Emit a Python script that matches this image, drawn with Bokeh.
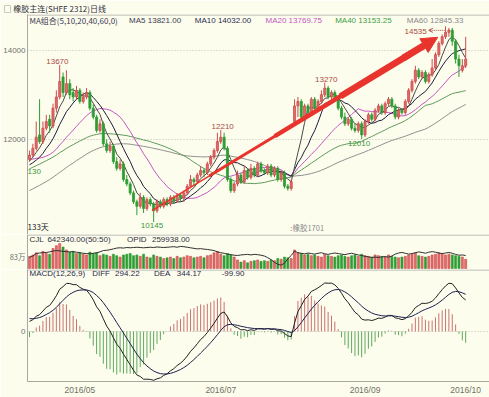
import pandas as pd
from bokeh.plotting import figure
from bokeh.layouts import column
from bokeh.models import (ColumnDataSource, Label, Span, Arrow, NormalHead, OpenHead,
                          FixedTicker, Range1d)
from bokeh.embed import file_html
from bokeh.resources import INLINE

# ---------------- data ----------------
prior_closes = [9500, 9600, 9550, 9700, 9650, 9800, 9750, 9600, 9700, 9850,
                9900, 9800, 9950, 10000, 9900, 10050, 10100, 10000, 10150, 10200,
                10300, 10450, 10600, 10550, 10700, 10850, 10800, 11000, 11150, 11100,
                11250, 11300, 11200, 11350, 11400, 11300, 11450, 11500, 11400, 11550,
                11600, 11750, 11700, 11850, 11900, 11800, 11650, 11700, 11550, 11400,
                11500, 11350, 11450, 11300, 11400, 11250, 11350, 11500, 11450, 11600]

opens = [11550, 11650, 11800, 12100, 11950, 12250, 12450, 12300, 12700, 12950,
         13400, 13050, 13250, 13050, 12950, 13100, 12850, 12950, 13050, 12700,
         12500, 12200, 12350, 11900, 11750, 11850, 11500, 11350, 11450, 11100,
         11000, 10800, 10600, 10500, 10700, 10450, 10650, 10550, 10400, 10600,
         10500, 10650, 10550, 10700, 10620, 10750, 10680, 10800, 10950, 11100,
         11050, 11200, 11300, 11250, 11450, 11600, 11750, 11950, 12050, 11800,
         11100, 10850, 11000, 11200, 11050, 11300, 11150, 11350, 11200, 11450,
         11300, 11250, 11400, 11200, 11350, 11100, 11250, 10950, 10900, 12400,
         12750, 12850, 12500, 12750, 12600, 12900, 12700, 12850, 13000, 13150,
         12950, 13050, 12900, 12700, 12500, 12350, 12450, 12250, 12200, 12350,
         12100, 12400, 12550, 12450, 12650, 12750, 12600, 12800, 12900, 12750,
         12500, 12650, 12600, 12850, 13100, 13300, 13550, 13400, 13500, 13300,
         13450, 13600, 13900, 14150, 14300, 14400, 14450, 14200, 13800, 13550,
         13650]
highs = [11750, 11900, 12400, 12900, 12400, 12550, 12550, 12800, 13100, 13670,
         13500, 13550, 13350, 13150, 13200, 13150, 13050, 13150, 13100, 12800,
         12550, 12450, 12400, 12000, 11950, 11900, 11600, 11550, 11500, 11200,
         11050, 10850, 10650, 10800, 10750, 10700, 10700, 10600, 10650, 10650,
         10700, 10700, 10750, 10750, 10800, 10800, 10850, 11000, 11200, 11150,
         11250, 11400, 11350, 11500, 11650, 11800, 12150, 12210, 12150, 11850,
         11150, 11050, 11300, 11250, 11400, 11350, 11450, 11400, 11500, 11500,
         11350, 11450, 11450, 11400, 11400, 11300, 11300, 11000, 11100, 12900,
         12950, 12900, 12800, 12800, 12950, 12950, 12900, 13100, 13270, 13200,
         13100, 13100, 12950, 12750, 12600, 12500, 12500, 12350, 12400, 12400,
         12450, 12600, 12600, 12700, 12800, 12800, 12850, 12950, 12950, 12800,
         12700, 12700, 12900, 13150, 13350, 13650, 13600, 13550, 13550, 13500,
         13800, 13950, 14200, 14350, 14535, 14500, 14500, 14250, 13900, 13800,
         14300]
lows = [11500, 11600, 11750, 11900, 11900, 12200, 12150, 12250, 12600, 12900,
        12950, 13000, 12900, 12850, 12900, 12800, 12800, 12900, 12650, 12450,
        12150, 12150, 11850, 11700, 11700, 11450, 11300, 11300, 11050, 10950,
        10750, 10550, 10300, 10450, 10350, 10400, 10500, 10145, 10350, 10450,
        10450, 10500, 10500, 10550, 10580, 10600, 10600, 10750, 10900, 10950,
        11000, 11150, 11150, 11200, 11400, 11550, 11700, 11900, 11750, 11050,
        10800, 10800, 10950, 11000, 11000, 11100, 11100, 11150, 11150, 11250,
        11200, 11200, 11150, 11150, 11050, 11050, 10900, 10850, 10850, 12350,
        12500, 12450, 12450, 12550, 12550, 12650, 12650, 12800, 12950, 12900,
        12900, 12850, 12650, 12450, 12300, 12300, 12200, 12150, 12150, 12010,
        12050, 12350, 12400, 12400, 12600, 12550, 12550, 12750, 12700, 12450,
        12450, 12550, 12550, 12800, 13050, 13250, 13350, 13350, 13250, 13250,
        13400, 13550, 13850, 14100, 14250, 14300, 14100, 13700, 13400, 13500,
        13600]
closes = [11650, 11800, 12050, 11950, 12250, 12400, 12300, 12700, 12950, 13300,
          13050, 13250, 13000, 12950, 13100, 12850, 12950, 13050, 12700, 12500,
          12200, 12350, 11900, 11750, 11850, 11500, 11350, 11450, 11100, 11000,
          10800, 10600, 10500, 10700, 10450, 10650, 10550, 10400, 10600, 10500,
          10650, 10550, 10700, 10620, 10750, 10680, 10800, 10950, 11100, 11050,
          11200, 11300, 11250, 11450, 11600, 11750, 11950, 12050, 11800, 11100,
          10850, 11000, 11200, 11050, 11300, 11150, 11350, 11200, 11450, 11300,
          11250, 11400, 11200, 11350, 11100, 11250, 10950, 10900, 11050, 12750,
          12850, 12500, 12750, 12600, 12900, 12700, 12850, 13000, 13150, 12950,
          13050, 12900, 12700, 12500, 12350, 12450, 12250, 12200, 12350, 12100,
          12400, 12550, 12450, 12650, 12750, 12600, 12800, 12900, 12750, 12500,
          12650, 12600, 12850, 13100, 13300, 13550, 13400, 13500, 13300, 13450,
          13600, 13900, 14150, 14300, 14400, 14450, 14200, 13800, 13650, 13650,
          13800]
# volume (CJL) in units of 10,000 contracts (万)
volume_wan = [85, 95, 110, 90, 120, 105, 100, 140, 160, 175,
              150, 130, 115, 120, 105, 110, 100, 95, 115, 105,
              110, 90, 100, 95, 85, 100, 90, 80, 95, 100,
              105, 90, 95, 85, 100, 80, 75, 95, 85, 80,
              70, 75, 80, 70, 85, 75, 80, 90, 85, 75,
              80, 85, 75, 90, 95, 110, 120, 100, 90, 105,
              95, 80, 60, 45, 55, 40, 50, 55, 60, 50,
              55, 50, 60, 55, 70, 65, 80, 75, 70, 130,
              110, 105, 95, 100, 90, 95, 85, 80, 100, 90,
              85, 80, 90, 95, 85, 80, 90, 95, 85, 100,
              90, 85, 80, 95, 90, 85, 80, 95, 85, 80,
              75, 80, 85, 95, 100, 110, 90, 85, 80, 85,
              95, 100, 110, 105, 95, 100, 95, 90, 85, 80,
              64.2]
# open interest (OPID) in 万
open_interest_wan = [25.3, 25.8, 26.7, 26.9, 27.0, 27.1, 27.3, 27.6, 27.8, 27.7,
                     27.5, 27.4, 27.3, 27.4, 27.2, 27.0, 26.8, 26.7, 26.6, 26.8,
                     27.0, 27.3, 27.8, 27.9, 28.1, 28.4, 28.7, 28.8, 28.7, 28.9,
                     28.8, 28.9, 29.0, 28.9, 28.8, 28.9, 29.0, 28.9, 29.1, 29.0,
                     28.9, 29.0, 29.1, 29.2, 29.0, 29.3, 29.2, 29.0, 28.8, 28.6,
                     28.4, 28.5, 28.3, 28.2, 28.0, 27.8, 27.3, 27.0, 26.8, 26.5,
                     26.3, 26.1, 26.0, 26.2, 26.3, 26.4, 26.2, 26.4, 26.3, 26.1,
                     25.8, 25.2, 24.5, 23.5, 22.8, 22.5, 23.2, 24.8, 26.0, 27.6,
                     27.0, 26.8, 26.6, 26.9, 26.7, 26.5, 26.8, 27.0, 26.6, 26.4,
                     26.7, 26.9, 26.7, 26.5, 26.3, 26.6, 26.8, 26.5, 26.2, 26.0,
                     25.7, 25.5, 25.3, 25.4, 25.3, 25.5, 25.6, 25.4, 25.8, 26.5,
                     26.9, 27.1, 26.8, 26.5, 26.7, 27.0, 27.3, 27.1, 26.8, 27.2,
                     27.4, 27.2, 26.9, 26.7, 26.9, 27.1, 26.8, 26.4, 26.1, 26.2,
                     25.99]
date_tick_index = [15, 57, 100, 130]
date_tick_labels = ["2016/05", "2016/07", "2016/09", "2016/10"]
ma_windows = [5, 10, 20, 40, 60]

# ---------------- derived indicators ----------------
n = len(closes)
xs = list(range(n))
full = pd.Series(prior_closes + closes, dtype=float)
mas = {w: full.rolling(w).mean().iloc[-n:].tolist() for w in ma_windows}
ema12 = full.ewm(span=12, adjust=False).mean()
ema26 = full.ewm(span=26, adjust=False).mean()
diff = ema12 - ema26
dea = diff.ewm(span=9, adjust=False).mean()
hist = 2 * (diff - dea)
diff_v = diff.iloc[-n:].tolist()
dea_v = dea.iloc[-n:].tolist()
hist_v = hist.iloc[-n:].tolist()

# ---------------- style ----------------
BG = "#FDFDEE"
FONT = "Liberation Sans"
CJK = "Noto Sans CJK SC"
UP = "#E26A6A"
UP_LINE = "#CC4B4B"
DN = "#2E9E34"
AXIS = "#A8A8A0"
W = 489
X0, X1 = -0.6, 137.1
FL, FR = 25, 489


def xd(rx):
    return X0 + (rx - FL) / (FR - FL) * (X1 - X0)


def ym(ry):
    return 14000 - (ry - 48) * 22.222


def yv(ry):
    return (268 - ry) * 7.0


def yc(ry):
    return (332 - ry) * 9.5


xr = Range1d(X0, X1)


def mkfig(h, y0, y1, top, bottom, xaxis=None):
    p = figure(width=W, height=h, x_range=xr, y_range=Range1d(y0, y1),
               x_axis_location=xaxis, output_backend="svg", toolbar_location=None,
               min_border_left=FL, min_border_right=0, min_border_top=top,
               min_border_bottom=bottom)
    p.background_fill_color = BG
    p.border_fill_color = BG
    p.outline_line_color = None
    p.xgrid.grid_line_color = None
    p.yaxis.axis_line_color = AXIS
    p.yaxis.major_tick_in = 0
    p.yaxis.major_tick_out = 0
    p.yaxis.minor_tick_line_color = None
    p.yaxis.major_label_standoff = 2
    p.yaxis.major_label_text_font = FONT
    p.yaxis.major_label_text_font_size = "8px"
    p.yaxis.major_label_text_color = "#707070"
    p.ygrid.grid_line_color = "#BDBDB5"
    p.ygrid.grid_line_dash = "1 2"
    return p


def lab(p, x, y, text, color, size="8px", align="left", base="middle", font=FONT, alpha=1.0):
    p.add_layout(Label(x=x, y=y, text=text, text_color=color, text_font_size=size,
                       text_align=align, text_baseline=base, text_font=font,
                       text_alpha=alpha))


colors = [UP if c >= o else DN for o, c in zip(opens, closes)]
lines = [UP_LINE if c >= o else DN for o, c in zip(opens, closes)]

# ---------------- main price panel ----------------
p1 = mkfig(234, ym(234), ym(12), 12, 0)
p1.title.text = "□ 橡胶主连(SHFE 2312)日线"
p1.title.text_font = CJK
p1.title.text_font_size = "8px"
p1.title.text_font_style = "normal"
p1.title.text_color = "#303040"
p1.title.standoff = 1
p1.title.offset = -24
p1.add_layout(Span(location=ym(12.5), dimension="width", line_color=AXIS, line_width=1))
p1.yaxis.ticker = FixedTicker(ticks=[12000, 14000])
p1.ygrid.ticker = FixedTicker(ticks=[12000, 14000])
p1.yaxis.major_label_overrides = {12000: "12000", 14000: "14000"}

src = ColumnDataSource(dict(x=xs, o=opens, h=highs, l=lows, c=closes,
                            top=[max(a, b) for a, b in zip(opens, closes)],
                            bot=[min(a, b) for a, b in zip(opens, closes)],
                            fill=colors, line=lines))
ma_colors = {5: "#4A4A4A", 10: "#1C1C3C", 20: "#C455C4", 40: "#5E9A5E", 60: "#909090"}
for w in [60, 40, 20, 10, 5]:
    p1.line(xs, mas[w], line_color=ma_colors[w], line_width=1)
p1.segment(x0="x", y0="l", x1="x", y1="h", line_color="line", line_width=1, source=src)
p1.vbar(x="x", width=0.62, top="top", bottom="bot", fill_color="fill", line_color="line",
        line_width=0.8, source=src)

# trend arrow (tapered)
sx0, sy0, sx1, sy1 = xd(150), ym(210), xd(437), ym(35)
pieces = [(0.0, 0.22, 1.5), (0.2, 0.45, 3), (0.43, 0.68, 4.5), (0.66, 0.9, 6.5)]
for a, b, lw in pieces:
    p1.line([sx0 + (sx1 - sx0) * a, sx0 + (sx1 - sx0) * b],
            [sy0 + (sy1 - sy0) * a, sy0 + (sy1 - sy0) * b],
            line_color="#E8342C", line_width=lw)
p1.add_layout(Arrow(end=NormalHead(size=16, fill_color="#E8342C", line_color="#E8342C"),
                    x_start=sx0 + (sx1 - sx0) * 0.88, y_start=sy0 + (sy1 - sy0) * 0.88,
                    x_end=sx1, y_end=sy1, line_color="#E8342C", line_width=7))

# extreme labels
RED_T = "#A84A40"
GRN_T = "#3A963A"
lab(p1, xd(55), ym(62), "13670", RED_T, align="center", base="bottom")
lab(p1, xd(221), ym(128), "12210", RED_T, align="center", base="bottom")
lab(p1, xd(325), ym(80), "13270", RED_T, align="center", base="bottom")
lab(p1, xd(150), ym(222), "10145", GRN_T, align="center", base="top")
lab(p1, xd(358), ym(140), "12010", GRN_T, align="center", base="top")
lab(p1, xd(426), ym(29.5), "14535", RED_T, align="right")
p1.add_layout(Arrow(end=OpenHead(size=4, line_color="#A84A40", line_width=1),
                    x_start=xd(444), y_start=ym(28), x_end=xd(428), y_end=ym(28),
                    line_color="#A84A40", line_width=1, line_dash="1 1"))
lab(p1, xd(25), ym(170), "130", GRN_T)
lab(p1, xd(25), ym(226), "133天", "#202020", font=CJK)
lab(p1, xd(289), ym(227), ":橡胶1701", "#8A8A8A", size="7.5px", font=CJK)

# header line 2
hdr = [(27, "MA组合(5,10,20,40,60,0)", "#3A3A55"), (127, "MA5 13821.00", "#3A3A55"),
       (193, "MA10 14032.00", "#2A2A50"), (264, "MA20 13769.75", "#C455C4"),
       (334, "MA40 13153.25", "#3E9E3E"), (406, "MA60 12845.33", "#8A8A8A")]
for rx, t, col in hdr:
    lab(p1, xd(rx), ym(18), t, col, font=CJK if "组" in t else FONT)

# ---------------- volume panel ----------------
p2 = mkfig(35, yv(269), yv(234), 0, 0)
p2.yaxis.ticker = FixedTicker(ticks=[83])
p2.ygrid.grid_line_color = None
p2.yaxis.major_label_overrides = {83: "83万"}
p2.yaxis.major_label_text_font = CJK
p2.yaxis.major_label_text_font_size = "7.5px"
p2.add_layout(Span(location=yv(234.5), dimension="width", line_color=AXIS, line_width=1))
p2.extra_y_ranges = {"oi": Range1d(30 - 25 * 0.364, 30 + 10 * 0.364)}
p2.vbar(x=xs, width=0.62, top=volume_wan, bottom=0, fill_color=colors, line_color=lines,
        line_width=0.6)
p2.line(xs, open_interest_wan, y_range_name="oi", line_color="#303030", line_width=1)
lab(p2, xd(27), yv(238.5), "CJL", "#303040")
lab(p2, xd(45), yv(238.5), "642340.00(50:50)", "#303040")
lab(p2, xd(125), yv(238.5), "OPID", "#303040")
lab(p2, xd(150), yv(238.5), "259938.00", "#303040")

# ---------------- MACD panel ----------------
p3 = mkfig(128, yc(383), yc(269), 0, 14, xaxis="below")
p3.yaxis.ticker = FixedTicker(ticks=[0])
p3.ygrid.ticker = FixedTicker(ticks=[0])
p3.yaxis.major_label_overrides = {0: "0"}
p3.add_layout(Span(location=yc(269.5), dimension="width", line_color=AXIS, line_width=1))
p3.xaxis.ticker = FixedTicker(ticks=date_tick_index)
p3.xaxis.major_label_overrides = dict(zip(date_tick_index, date_tick_labels))
p3.xaxis.axis_line_color = AXIS
p3.xaxis.major_tick_in = 0
p3.xaxis.major_tick_out = 0
p3.xaxis.minor_tick_line_color = None
p3.xaxis.major_label_standoff = 3
p3.xaxis.major_label_text_font = FONT
p3.xaxis.major_label_text_font_size = "8.5px"
p3.xaxis.major_label_text_color = "#707064"
hcol = ["#C87272" if v >= 0 else "#5EA85E" for v in hist_v]
p3.segment(x0=xs, y0=[0] * n, x1=xs, y1=hist_v, line_color=hcol, line_width=1)
p3.line(xs, diff_v, line_color="#202020", line_width=1)
p3.line(xs, dea_v, line_color="#1E2050", line_width=1)
lab(p3, xd(27), yc(273.5), "MACD(12,26,9)", "#2A2A48")
lab(p3, xd(90), yc(273.5), "DIFF", "#2A2A48")
lab(p3, xd(113), yc(273.5), "294.22", "#2A2A48")
lab(p3, xd(152), yc(273.5), "DEA", "#2A2A48")
lab(p3, xd(175), yc(273.5), "344.17", "#2A2A48")
lab(p3, xd(220), yc(273.5), "-99.90", "#2A2A48")

layout = column(p1, p2, p3, spacing=0)
open("out.html", "w").write(file_html(layout, INLINE))
